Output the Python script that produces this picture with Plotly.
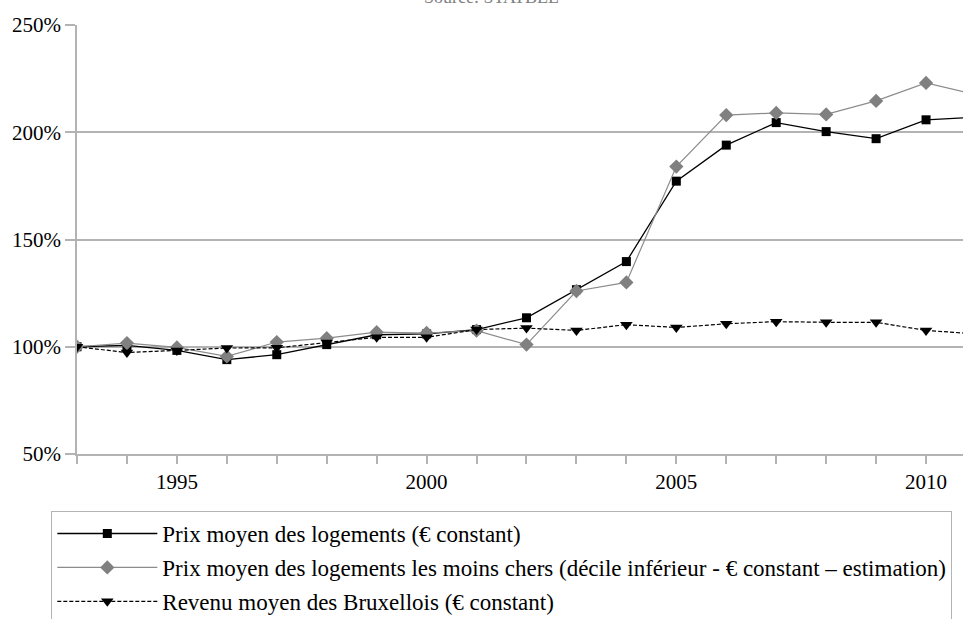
import plotly.graph_objects as go

years = list(range(1993, 2012))
prix_moyen = [100, 100.6, 98.3, 94.0, 96.3, 101.0, 105.6, 106.0, 108.0, 113.5, 126.6, 139.7, 177.2, 194.0, 204.5, 200.3, 197.0, 205.8, 207.0]
prix_moins_chers = [100, 101.7, 99.7, 95.5, 102.2, 104.0, 106.8, 106.4, 107.5, 101.0, 126.0, 130.0, 184.0, 208.0, 209.0, 208.3, 214.6, 223.0, 217.5]
revenu_moyen = [100, 97.3, 98.3, 99.4, 99.5, 102.0, 104.4, 104.4, 108.0, 108.7, 107.6, 110.3, 109.0, 110.7, 111.7, 111.4, 111.4, 107.6, 106.0]

names = [
    "Prix moyen des logements (€ constant)",
    "Prix moyen des logements les moins chers (décile inférieur - € constant – estimation)",
    "Revenu moyen des Bruxellois (€ constant)",
]
y_ticks = [50, 100, 150, 200, 250]
y_labels = ["50%", "100%", "150%", "200%", "250%"]
x_ticks = [1995, 2000, 2005, 2010]

FONT = "Liberation Serif"
GRID = "#b3b3b3"

fig = go.Figure()
fig.add_trace(go.Scatter(
    x=years, y=prix_moyen, name=names[0], mode="lines+markers", legendgroup="a",
    line=dict(color="#000000", width=1.3),
    marker=dict(symbol="square", size=9, color="#000000"),
))
fig.add_trace(go.Scatter(
    x=years, y=prix_moins_chers, name=names[1], mode="lines+markers", legendgroup="b",
    line=dict(color="#8c8c8c", width=1.2),
    marker=dict(symbol="diamond", size=11, color="#808080"),
))
fig.add_trace(go.Scatter(
    x=years, y=revenu_moyen, name=names[2], mode="lines+markers", legendgroup="c",
    line=dict(color="#000000", width=1.2, dash="4px,2px"),
    marker=dict(symbol="triangle-down", size=11, color="#000000"),
))

fig.update_layout(
    width=963, height=619,
    margin=dict(l=77, r=0, t=25, b=165, autoexpand=False),
    paper_bgcolor="white", plot_bgcolor="white",
    font=dict(family=FONT, size=21, color="#000000"),
    showlegend=True,
    legend=dict(
        x=-0.029, xanchor="left", y=-0.133, yanchor="top",
        bgcolor="white", bordercolor=GRID, borderwidth=1,
        font=dict(family=FONT, size=23, color="#000000"),
        itemwidth=100, tracegroupgap=1, traceorder="grouped",
    ),
    annotations=[dict(
        text="Source: STATBEL", xref="paper", yref="paper", x=0.468, y=1,
        xanchor="center", yanchor="middle", yshift=28, showarrow=False,
        font=dict(family=FONT, size=18, color="#808080"),
    )],
)
fig.update_xaxes(
    range=[1993, 2010.74], tickmode="array", tickvals=x_ticks, automargin=False,
    showgrid=False, zeroline=False, showline=True, linecolor=GRID, linewidth=1.5,
    ticks="outside", ticklen=8, tickcolor=GRID, tickwidth=1.5,
    minor=dict(dtick=1, tick0=1993, ticks="outside", ticklen=8, tickcolor=GRID, tickwidth=1.5, showgrid=False),
    tickfont=dict(family=FONT, size=21),
)
fig.update_yaxes(
    range=[50, 250], tickmode="array", tickvals=y_ticks, ticktext=y_labels, automargin=False,
    showgrid=True, gridcolor=GRID, gridwidth=1.5, zeroline=False,
    showline=True, linecolor=GRID, linewidth=1.5,
    ticks="outside", ticklen=10, tickcolor=GRID, tickwidth=1.5,
    tickfont=dict(family=FONT, size=21),
)

fig.write_html(
    "out.html",
    config={"displayModeBar": False},
    post_script="document.body.style.margin='0';document.body.style.overflow='hidden';",
)
